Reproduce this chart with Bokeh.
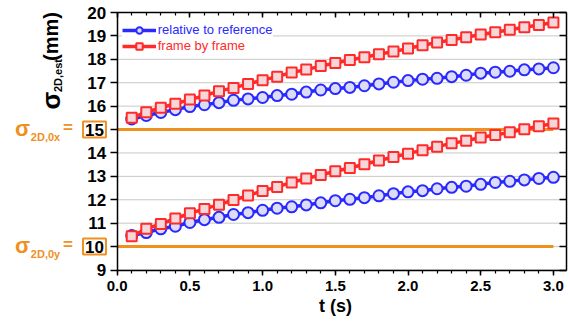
import math
from bokeh.plotting import figure
from bokeh.models import (Range1d, LinearAxis, FixedTicker, Label, Legend, LegendItem)
from bokeh.embed import file_html
from bokeh.resources import INLINE

# ---------------- data ----------------
t = [0.1, 0.2, 0.3, 0.4, 0.5, 0.6, 0.7, 0.8, 0.9, 1.0,
     1.1, 1.2, 1.3, 1.4, 1.5, 1.6, 1.7, 1.8, 1.9, 2.0,
     2.1, 2.2, 2.3, 2.4, 2.5, 2.6, 2.7, 2.8, 2.9, 3.0]

rel_x = [15.45, 15.60, 15.73, 15.85, 15.98, 16.06, 16.15, 16.25, 16.31, 16.37,
         16.45, 16.51, 16.60, 16.69, 16.75, 16.80, 16.87, 16.95, 17.02, 17.09,
         17.15, 17.19, 17.26, 17.32, 17.41, 17.45, 17.49, 17.55, 17.59, 17.64]
fbf_x = [15.50, 15.74, 15.93, 16.10, 16.28, 16.45, 16.64, 16.78, 16.95, 17.11,
         17.26, 17.44, 17.56, 17.71, 17.84, 17.97, 18.09, 18.22, 18.33, 18.46,
         18.60, 18.72, 18.83, 18.94, 19.06, 19.16, 19.26, 19.37, 19.47, 19.57]
rel_y = [10.47, 10.60, 10.76, 10.87, 11.03, 11.15, 11.25, 11.37, 11.45, 11.55,
         11.64, 11.70, 11.78, 11.87, 11.96, 12.02, 12.09, 12.17, 12.26, 12.34,
         12.39, 12.47, 12.53, 12.58, 12.66, 12.74, 12.79, 12.85, 12.91, 12.96]
fbf_y = [10.44, 10.76, 10.97, 11.20, 11.42, 11.61, 11.79, 11.99, 12.18, 12.38,
         12.55, 12.74, 12.91, 13.06, 13.22, 13.36, 13.52, 13.68, 13.83, 13.97,
         14.12, 14.27, 14.41, 14.52, 14.66, 14.77, 14.88, 15.01, 15.14, 15.26]

ref_t = [0.0, 3.0]
sigma0x = 15
sigma0y = 10

x_ticks = [0.0, 0.5, 1.0, 1.5, 2.0, 2.5, 3.0]
x_tick_labels = ["0.0", "0.5", "1.0", "1.5", "2.0", "2.5", "3.0"]
y_ticks = [9, 10, 11, 12, 13, 14, 15, 16, 17, 18, 19, 20]
y_tick_labels = ["9", "10", "11", "12", "13", "14", "15", "16", "17", "18", "19", "20"]
boxed_ticks = [15, 10]

# ---------------- style / geometry ----------------
FONT = "Liberation Sans"
ORANGE = "#F0901E"
BLUE = "#2A2AFF"
BLUE_FILL = "#DCDCF6"
RED = "#FF2A2A"
RED_FILL = "#F6D6D8"

W, H = 570, 322
XMIN, XMAX, YMIN, YMAX = 0.0, 3.09, 9, 20     # plotted data box
PX_L, PX_R, PX_T, PX_B = 116.7, 566.0, 12.0, 269.5  # where that box sits on the canvas
SX = (PX_R - PX_L) / (XMAX - XMIN)
SY = (PX_B - PX_T) / (YMAX - YMIN)


def X(px):
    return XMIN + (px - PX_L) / SX


def Y(py):
    return YMAX - (py - PX_T) / SY


p = figure(width=W, height=H,
           x_range=Range1d(X(0), X(W)), y_range=Range1d(Y(H), Y(0)),
           output_backend="svg", toolbar_location=None, min_border=0)
p.background_fill_color = "white"
p.border_fill_color = "white"
p.outline_line_color = None
p.xgrid.grid_line_color = None
p.ygrid.grid_line_color = None

# horizontal grid lines inside the data box
p.segment(x0=[XMIN] * len(y_ticks), x1=[XMAX] * len(y_ticks), y0=y_ticks, y1=y_ticks,
          line_color="#C8C8C8", line_width=1)

minor_x = [i / 10 for i in range(0, 31)]


def style_axis(ax):
    ax.axis_line_color = "black"
    ax.axis_line_width = 1.5
    ax.major_tick_line_color = "black"
    ax.major_tick_line_width = 1.5
    ax.minor_tick_line_color = "black"
    ax.minor_tick_line_width = 1.2


# bottom axis
xa = p.xaxis[0]
xa.fixed_location = YMIN
xa.bounds = (XMIN, XMAX)
xa.ticker = FixedTicker(ticks=x_ticks, minor_ticks=minor_x)
xa.major_label_overrides = {v: s for v, s in zip(x_ticks, x_tick_labels)}
xa.major_label_text_font = FONT
xa.major_label_text_font_style = "bold"
xa.major_label_text_font_size = "15px"
xa.major_label_text_color = "black"
xa.major_label_standoff = 6
xa.major_tick_in = 0
xa.major_tick_out = 5
xa.minor_tick_in = 0
xa.minor_tick_out = 3
style_axis(xa)

# left axis
ya = p.yaxis[0]
ya.fixed_location = XMIN
ya.bounds = (YMIN, YMAX)
ya.ticker = FixedTicker(ticks=y_ticks, minor_ticks=[])
ya.major_label_overrides = {v: ("" if v in boxed_ticks else s) for v, s in zip(y_ticks, y_tick_labels)}
ya.major_label_text_font = FONT
ya.major_label_text_font_style = "bold"
ya.major_label_text_font_size = "17px"
ya.major_label_text_color = "black"
ya.major_label_standoff = 4
ya.major_tick_in = 0
ya.major_tick_out = 7
ya.minor_tick_in = 0
ya.minor_tick_out = 0
style_axis(ya)

# top axis (ticks only, inward)
top = LinearAxis(ticker=FixedTicker(ticks=x_ticks, minor_ticks=minor_x),
                 fixed_location=YMAX, bounds=(XMIN, XMAX))
top.major_label_text_color = None
top.major_tick_in = 5
top.major_tick_out = 0
top.minor_tick_in = 3
top.minor_tick_out = 0
style_axis(top)
p.add_layout(top, "above")

# right axis (ticks only, inward)
right = LinearAxis(ticker=FixedTicker(ticks=y_ticks, minor_ticks=[]),
                   fixed_location=XMAX, bounds=(YMIN, YMAX))
right.major_label_text_color = None
right.major_tick_in = 7
right.major_tick_out = 0
right.minor_tick_in = 0
right.minor_tick_out = 0
style_axis(right)
p.add_layout(right, "right")

# reference lines
p.line(ref_t, [sigma0x, sigma0x], line_color=ORANGE, line_width=3)
p.line(ref_t, [sigma0y, sigma0y], line_color=ORANGE, line_width=3)

# series
lb1 = p.line(t, rel_x, line_color=BLUE, line_width=3.5)
sb1 = p.scatter(t, rel_x, marker="circle", size=11, line_color=BLUE, line_width=2, fill_color=BLUE_FILL)
lb2 = p.line(t, rel_y, line_color=BLUE, line_width=3.5)
sb2 = p.scatter(t, rel_y, marker="circle", size=11, line_color=BLUE, line_width=2, fill_color=BLUE_FILL)
lr1 = p.line(t, fbf_x, line_color=RED, line_width=3.5)
sr1 = p.scatter(t, fbf_x, marker="square", size=10, line_color=RED, line_width=2, fill_color=RED_FILL)
lr2 = p.line(t, fbf_y, line_color=RED, line_width=3.5)
sr2 = p.scatter(t, fbf_y, marker="square", size=10, line_color=RED, line_width=2, fill_color=RED_FILL)

# legends (two, to give each its own text colour); location = bottom-left, px from canvas bottom-left
LEG_H = 16


def make_legend(label, rends, color, center_py):
    lg = Legend(items=[LegendItem(label=label, renderers=rends)],
                location=(PX_L + 5, H - center_py - LEG_H / 2))
    lg.background_fill_color = "white"
    lg.background_fill_alpha = 1.0
    lg.border_line_color = None
    lg.padding = 0
    lg.margin = 0
    lg.spacing = 0
    lg.glyph_width = 34
    lg.glyph_height = LEG_H
    lg.label_height = LEG_H
    lg.label_standoff = 2
    lg.label_text_font = FONT
    lg.label_text_font_size = "13px"
    lg.label_text_color = color
    lg.label_text_baseline = "middle"
    return lg


p.add_layout(make_legend("relative to reference", [lb1, sb1], BLUE, 29.5))
p.add_layout(make_legend("frame by frame", [lr1, sr1], RED, 45.5))


def label(px, py, text, size, color="black", angle=0.0, **kw):
    p.add_layout(Label(x=X(px), y=Y(py), text=text, angle=angle,
                       text_align="center", text_baseline="middle", text_font=FONT,
                       text_font_style="bold", text_font_size=size, text_color=color, **kw))


# y-axis title (rotated, composed)
label(50, 100, "σ", "26px", angle=math.pi / 2)
label(57.5, 75, "2D,est", "11px", angle=math.pi / 2)
label(50, 36, "(mm)", "20px", angle=math.pi / 2)

# x-axis title
label(335, 305, "t (s)", "18px")

# sigma_0 annotations with boxed tick values
for lvl, sub in ((sigma0x, "2D,0x"), (sigma0y, "2D,0y")):
    py = PX_T + (YMAX - lvl) * SY
    label(22, py - 1, "σ", "22px", ORANGE)
    label(45, py + 7, sub, "11px", ORANGE)
    label(67.5, py - 2, "=", "17px", ORANGE)
    label(94, py, str(lvl), "17px", "black",
          border_line_color=ORANGE, border_line_width=2, padding=2)

open("out.html", "w").write(file_html(p, INLINE))
